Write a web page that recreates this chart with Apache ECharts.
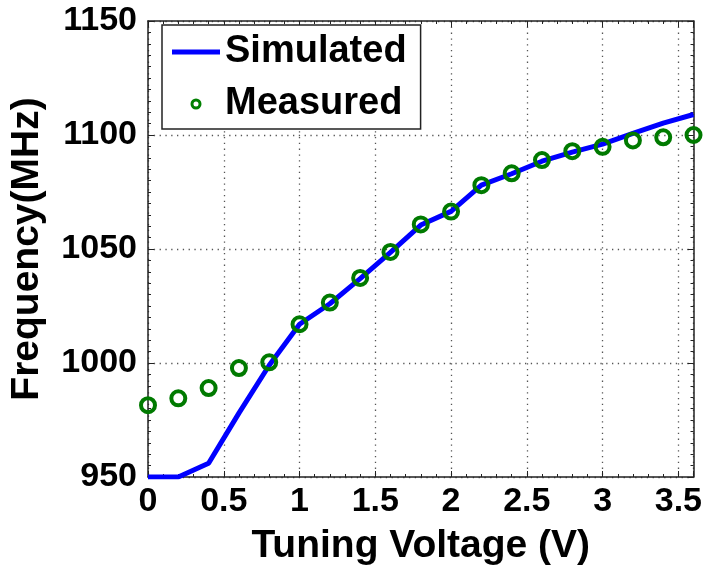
<!DOCTYPE html>
<html>
<head>
<meta charset="utf-8">
<script src="https://cdn.jsdelivr.net/npm/echarts@6/dist/echarts.min.js"></script>
<style>
  html, body { margin: 0; padding: 0; background: #fff; }
  #chart { width: 705px; height: 571px; }
</style>
</head>
<body>
<div id="chart"></div>
<script>
// tuning voltage (V)
var voltage = [0, 0.2, 0.4, 0.6, 0.8, 1.0, 1.2, 1.4, 1.6, 1.8, 2.0, 2.2, 2.4, 2.6, 2.8, 3.0, 3.2, 3.4, 3.6];
// frequency (MHz)
var simulated = [950, 950, 956, 978, 999, 1017, 1026, 1037, 1048.5, 1060.5, 1066.5, 1078, 1083, 1088.5, 1092.5, 1096, 1100.7, 1105.2, 1109];
var measured = [981.5, 984.5, 989, 997.8, 1000.3, 1017, 1026.5, 1037.3, 1048.7, 1060.8, 1066.4, 1078, 1083.2, 1089, 1092.9, 1094.8, 1097.6, 1099, 1100];

var FONT = '"Liberation Sans", Arial, sans-serif';

function pairs(xs, ys) {
    var out = [];
    for (var i = 0; i < xs.length; i++) out.push([xs[i], ys[i]]);
    return out;
}

var myChart = echarts.init(document.getElementById('chart'));

var gridLine = { show: true, lineStyle: { color: '#555', width: 1.3, type: [1.3, 4.5] } };
var boxLine = { show: true, onZero: false, lineStyle: { color: '#222', width: 1.5 } };
var tickStyle = { inside: true, length: 6, lineStyle: { color: '#222' } };
var titleFont = { fontFamily: FONT, fontSize: 39, fontWeight: 'bold', color: '#000' };

var option = {
    animation: false,
    backgroundColor: '#fff',
    grid: { left: 148, right: 9, top: 21, bottom: 90 },
    legend: {
        orient: 'vertical',
        left: 162,
        top: 25,
        backgroundColor: '#fff',
        borderColor: '#222',
        borderWidth: 1.5,
        padding: [8, 14, 6, 10],
        itemGap: 14,
        itemWidth: 48,
        itemHeight: 8,
        textStyle: { fontFamily: FONT, fontSize: 38, fontWeight: 'bold', color: '#000' },
        data: [
            { name: 'Simulated', icon: 'path://M0,0H48V5H0Z', itemStyle: { color: '#0000ff', borderWidth: 0 } },
            { name: 'Measured', icon: 'circle', itemStyle: { color: '#fff', borderColor: '#008000', borderWidth: 3 } }
        ]
    },
    xAxis: [{
        type: 'value',
        min: 0, max: 3.6, interval: 0.5,
        name: 'Tuning Voltage (V)',
        nameLocation: 'middle',
        nameGap: 50,
        nameTextStyle: titleFont,
        axisLine: boxLine,
        axisTick: tickStyle,
        minorTick: { show: true, splitNumber: 5, length: 3, lineStyle: { color: '#222' } },
        axisLabel: { fontFamily: FONT, fontSize: 34, fontWeight: 'bold', color: '#000', margin: 8, showMaxLabel: false },
        splitLine: gridLine
    }, {
        type: 'value',
        position: 'top',
        min: 0, max: 3.6, interval: 0.5,
        axisLine: boxLine,
        axisTick: tickStyle,
        minorTick: { show: true, splitNumber: 5, length: 3, lineStyle: { color: '#222' } },
        axisLabel: { show: false },
        splitLine: { show: false }
    }],
    yAxis: [{
        type: 'value',
        min: 950, max: 1150, interval: 50,
        name: 'Frequency(MHz)',
        nameLocation: 'middle',
        nameGap: 101,
        nameTextStyle: titleFont,
        axisLine: boxLine,
        axisTick: tickStyle,
        minorTick: { show: true, splitNumber: 10, length: 3, lineStyle: { color: '#222' } },
        axisLabel: {
            fontFamily: FONT, fontSize: 34, fontWeight: 'bold', color: '#000', margin: 11,
            formatter: function (v) { return String(v); }
        },
        splitLine: gridLine
    }, {
        type: 'value',
        position: 'right',
        min: 950, max: 1150, interval: 50,
        axisLine: boxLine,
        axisTick: tickStyle,
        minorTick: { show: true, splitNumber: 10, length: 3, lineStyle: { color: '#222' } },
        axisLabel: { show: false },
        splitLine: { show: false }
    }],
    series: [{
        name: 'Simulated',
        type: 'line',
        data: pairs(voltage, simulated),
        symbol: 'none',
        color: '#0000ff',
        lineStyle: { color: '#0000ff', width: 5 },
        z: 2
    }, {
        name: 'Measured',
        type: 'scatter',
        data: pairs(voltage, measured),
        symbol: 'circle',
        symbolSize: 14,
        itemStyle: { color: 'rgba(0,0,0,0)', borderColor: '#007a00', borderWidth: 4, opacity: 1 },
        z: 3
    }]
};

myChart.setOption(option);
</script>
</body>
</html>
